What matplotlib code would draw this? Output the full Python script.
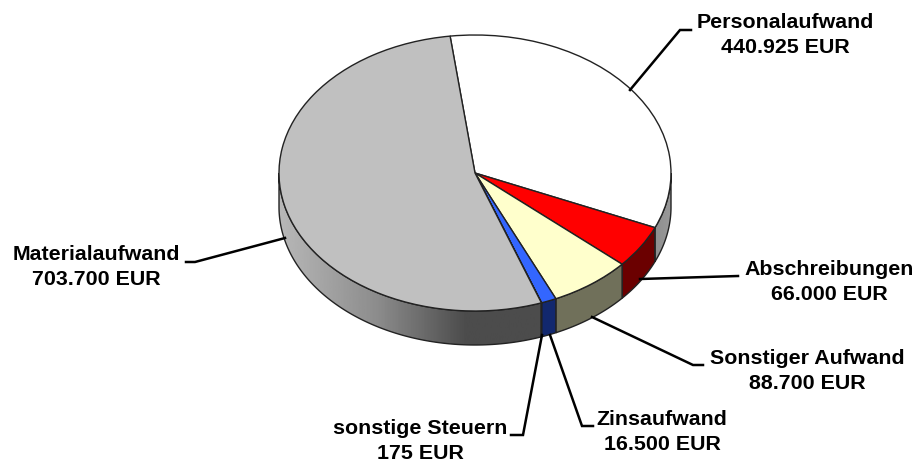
import numpy as np
import matplotlib
matplotlib.use('Agg')
import matplotlib.pyplot as plt
from matplotlib.patches import Polygon
from matplotlib.transforms import Affine2D

plt.rcParams['font.family'] = ['Liberation Sans', 'DejaVu Sans']

# expense items, clockwise from the top
labels = ['Personalaufwand', 'Abschreibungen', 'Sonstiger Aufwand', 'Zinsaufwand',
          'sonstige Steuern', 'Materialaufwand']
values = [440925, 66000, 88700, 16500, 175, 703700]
top_colors = ['#ffffff', '#ff0000', '#ffffcc', '#3366ff', '#3366ff', '#c0c0c0']
side_colors = [None, '#6b0000', '#70705a', '#12286e', '#12286e', None]

# pie geometry in pixels
W, H = 915, 462
cx, cy = 475, 173
rx, ry = 196, 138
depth = 34
start_angle = 97.3

fig = plt.figure(figsize=(W / 100, H / 100), dpi=100)
ax = fig.add_axes([0, 0, 1, 1])

wedges, _ = ax.pie(values, colors=top_colors, startangle=start_angle, counterclock=False,
                   wedgeprops={'edgecolor': '#222222', 'linewidth': 1.0, 'zorder': 5})

# squash the unit circle into an ellipse
ax.set_aspect('auto')
ax.axis('off')

# pixel coordinates for labels and leader lines
px = Affine2D().scale(1 / W, -1 / H).translate(0, 1) + fig.transFigure


def draw_side(lo, hi, color):
    # visible wall of one slice, lo and hi lie in the lower half of the ellipse
    t = np.radians(np.linspace(lo, hi, 120))
    x, y = np.cos(t), np.sin(t)
    d = depth / ry
    pts = np.column_stack([np.r_[x, x[::-1]], np.r_[y, y[::-1] - d]])
    if color is not None:
        ax.add_patch(Polygon(pts, closed=True, facecolor=color, edgecolor='#222222',
                             linewidth=1.0, zorder=3))
        return
    # grey walls get a horizontal shading
    outline = Polygon(pts, closed=True, facecolor='none', edgecolor='#222222',
                      linewidth=1.0, zorder=4)
    ax.add_patch(outline)
    gx = np.linspace(-1, 1, 256)
    shade = np.interp(gx, [-1.0, -0.5, -0.05, 0.4, 0.75, 1.0],
                      [0.72, 0.55, 0.30, 0.30, 0.48, 0.60])
    img = ax.imshow(shade[np.newaxis, :], extent=(-1, 1, -2, 1), cmap='gray', vmin=0, vmax=1,
                    aspect='auto', zorder=2)
    img.set_clip_path(outline)


for w, color in zip(wedges, side_colors):
    # a slice can sit one turn below the 180..360 range
    for a, b in [(w.theta1, w.theta2), (w.theta1 + 360, w.theta2 + 360)]:
        lo, hi = max(a, 180), min(b, 360)
        if hi > lo:
            draw_side(lo, hi, color)

ax.set_xlim(-cx / rx, (W - cx) / rx)
ax.set_ylim(-(H - cy) / ry, cy / ry)

# leader lines and label anchors per item
leaders = [
    ([630, 680, 691], [90, 30, 30]),
    ([640, 738], [279, 276]),
    ([592, 693, 703], [317, 365, 365]),
    ([550, 582, 593], [335, 426, 426]),
    ([542, 523, 511], [335, 435, 435]),
    ([285, 195, 186], [238, 262, 262]),
]
anchors = [(785, 35), (829, 282), (807, 371), (662, 432), (420, 441), (96, 267)]

for name, val, (lx, ly), (tx, ty) in zip(labels, values, leaders, anchors):
    ax.plot(lx, ly, color='black', linewidth=1.8, transform=px, zorder=6,
            solid_joinstyle='miter', clip_on=False)
    amount = f'{val:,}'.replace(',', '.')
    ax.text(tx, ty, f'{name}\n{amount} EUR', transform=px, ha='center', va='center',
            fontsize=15.4, fontweight='bold', color='black', linespacing=1.36, zorder=7)

fig.savefig('out.png', dpi=100, facecolor='white')
